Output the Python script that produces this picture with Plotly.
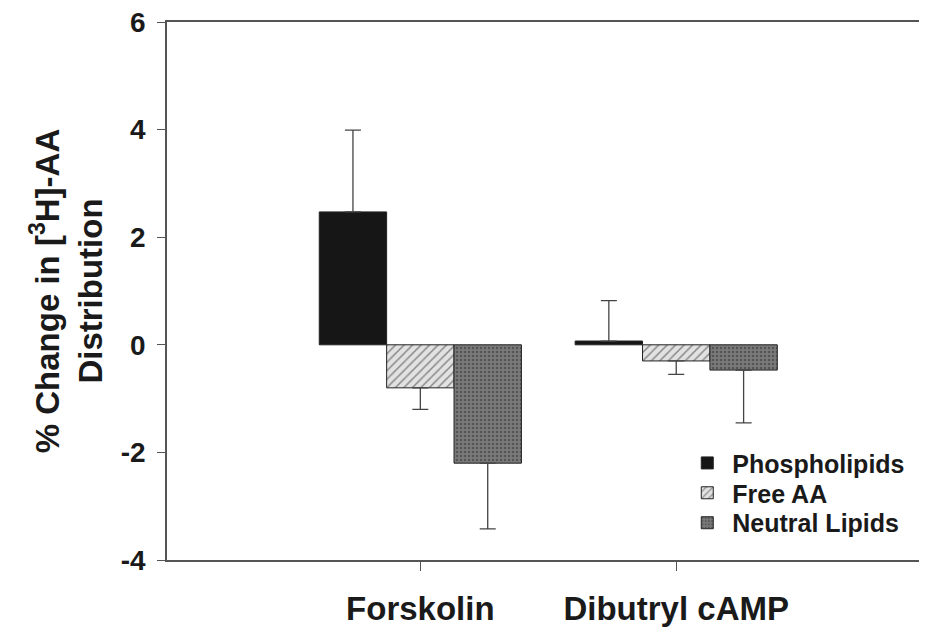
import plotly.graph_objects as go

categories = ["Forskolin", "Dibutryl cAMP"]
series_names = ["Phospholipids", "Free AA", "Neutral Lipids"]
values = {
    "Phospholipids": [2.47, 0.07],
    "Free AA": [-0.80, -0.30],
    "Neutral Lipids": [-2.20, -0.47],
}
errors = {
    "Phospholipids": [1.52, 0.75],
    "Free AA": [0.40, 0.25],
    "Neutral Lipids": [1.22, 0.98],
}
y_ticks = [-4, -2, 0, 2, 4, 6]
y_tick_labels = ["-4", "-2", "0", "2", "4", "6"]

styles = {
    "Phospholipids": dict(color="#161616", pattern=dict(shape="")),
    "Free AA": dict(color="#d9d9d9", pattern=dict(shape="/", fgcolor="#8a8a8a", bgcolor="#e2e2e2", size=6, solidity=0.25)),
    "Neutral Lipids": dict(color="#6f6f6f", pattern=dict(shape=".", fgcolor="#555555", bgcolor="#7a7a7a", size=4, solidity=0.3)),
}
legend_ids = ["legend", "legend2", "legend3"]
legend_rows_y = [0.180, 0.1245, 0.0688]

font_family = "Liberation Sans, Arial, sans-serif"

fig = go.Figure()
xidx = list(range(len(categories)))
for name, lid in zip(series_names, legend_ids):
    vals = values[name]
    errs = errors[name]
    plus = [e if v >= 0 else 0 for v, e in zip(vals, errs)]
    minus = [e if v < 0 else 0 for v, e in zip(vals, errs)]
    st = styles[name]
    fig.add_trace(go.Bar(
        name=name, x=xidx, y=vals, legend=lid,
        marker=dict(color=st["color"], pattern=st["pattern"],
                    line=dict(color="#222222", width=1)),
        error_y=dict(type="data", symmetric=False, array=plus, arrayminus=minus,
                     color="#444444", thickness=1.3, width=8),
    ))

legend_common = dict(x=0.678, xanchor="left", yanchor="middle",
                     bgcolor="rgba(0,0,0,0)", borderwidth=0,
                     font=dict(size=25, family=font_family, weight="bold", color="#1a1a1a"),
                     itemwidth=40)

fig.update_layout(
    template="none",
    width=927, height=632,
    margin=dict(l=159, r=8, t=14, b=80, pad=0),
    paper_bgcolor="white", plot_bgcolor="white",
    barmode="group", bargap=0.21, bargroupgap=0,
    font=dict(family=font_family, color="#1a1a1a"),
    showlegend=True,
    legend=dict(y=legend_rows_y[0], **legend_common),
    legend2=dict(y=legend_rows_y[1], **legend_common),
    legend3=dict(y=legend_rows_y[2], **legend_common),
    xaxis=dict(
        automargin=False,
        range=[-0.99, 1.98], tickmode="array", tickvals=xidx, ticktext=categories,
        showline=True, linecolor="#555555", linewidth=1.5, mirror=True,
        ticks="outside", ticklen=9, tickcolor="#555555", tickwidth=1,
        tickfont=dict(size=33, family=font_family, weight="bold", color="#1a1a1a"),
        ticklabelstandoff=10, ticklabeloverflow="allow",
        showgrid=False, zeroline=False,
    ),
    yaxis=dict(
        automargin=False,
        range=[-4, 6], tickmode="array", tickvals=y_ticks, ticktext=y_tick_labels,
        showline=True, linecolor="#555555", linewidth=1.5, mirror=False,
        ticks="outside", ticklen=8, tickcolor="#555555", tickwidth=1,
        tickfont=dict(size=28, family=font_family, weight="bold", color="#1a1a1a"),
        ticklabelstandoff=6, ticklabeloverflow="allow",
        showgrid=False, zeroline=False,
        title=dict(text="% Change in [<sup>3</sup>H]-AA<br>Distribution",
                   font=dict(size=33, family=font_family, weight="bold", color="#1a1a1a"),
                   standoff=8),
    ),
)

fig.write_html("out.html")
